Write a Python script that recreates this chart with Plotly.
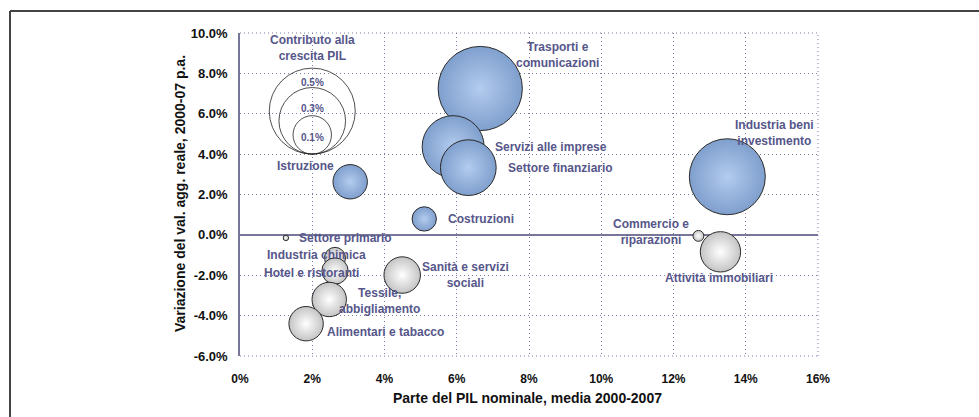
import plotly.graph_objects as go

# ---------------- data ----------------
settori = ["Trasporti e<br>comunicazioni", "Servizi alle imprese", "Settore finanziario",
           "Istruzione", "Costruzioni", "Industria beni<br>investimento",
           "Settore primario", "Industria chimica", "Hotel e ristoranti",
           "Sanità e servizi<br>sociali", "Tessile,<br>abbigliamento",
           "Alimentari e tabacco", "Commercio e<br>riparazioni", "Attività immobiliari"]
quota_pil = [6.65, 5.90, 6.32, 3.05, 5.10, 13.49, 1.27, 2.63, 2.63, 4.49, 2.47, 1.83, 12.69, 13.30]
var_va = [7.25, 4.37, 3.33, 2.63, 0.79, 2.88, -0.15, -1.14, -1.79, -1.99, -3.20, -4.40, -0.05, -0.84]
contributo = [0.48, 0.26, 0.21, 0.08, 0.04, 0.39, 0.002, 0.03, 0.047, 0.09, 0.08, 0.08, 0.008, 0.11]

legenda_valori = [0.5, 0.3, 0.1]
legenda_testi = ["0.5%", "0.3%", "0.1%"]

x_ticks = [0, 2, 4, 6, 8, 10, 12, 14, 16]
y_ticks = [-6, -4, -2, 0, 2, 4, 6, 8, 10]

# ---------------- style ----------------
W, H = 979, 417
ML, MR, MT, MB = 240, 161, 33, 61
PW, PH = W - ML - MR, H - MT - MB
FONT = "Liberation Sans, Arial, sans-serif"
LBL = "#56568a"
GRID = "#7c7ca6"
AX = "#77779a"
DOT = "1px,3px"
MAX_D = 86.0
sizeref = 2.0 * max(legenda_valori) / MAX_D ** 2

# label offsets (pixels) relative to each bubble
label_shift = [(77, 34), (98, 0), (92, 0), (-45, 16), (57, 0), (47, 44),
               (60, 0), (-19, 3), (-24, -2), (63, 0), (50, -2), (79, -8),
               (-47, 4), (-1, -26)]

fig = go.Figure()

for i in range(len(settori)):
    pos = var_va[i] >= 0
    fig.add_trace(go.Scatter(
        x=[quota_pil[i]], y=[var_va[i]], mode="markers",
        marker=dict(size=[contributo[i]], sizemode="area", sizeref=sizeref, sizemin=2,
                    color="#7f9fcd" if pos else "#c4c4c4",
                    gradient=dict(type="radial", color="#b3cbee" if pos else "#ffffff"),
                    line=dict(color="#2a2a2a", width=1), opacity=1),
        hoverinfo="skip", showlegend=False, cliponaxis=False))

annotations = []
for i, name in enumerate(settori):
    dx, dy = label_shift[i]
    annotations.append(dict(x=quota_pil[i], y=var_va[i], xref="x", yref="y", text=name,
                            showarrow=False, xshift=dx, yshift=dy,
                            font=dict(family=FONT, size=12, color=LBL, weight="bold"),
                            align="center", xanchor="center", yanchor="middle"))

# bubble-size legend
shapes = []
leg_x, leg_y = 2, 4
label_up = [72, 46, 17]
for v, t, up in zip(legenda_valori, legenda_testi, label_up):
    r = (2 * v / sizeref) ** 0.5 / 2
    shapes.append(dict(type="circle", xref="x", yref="y", xsizemode="pixel", ysizemode="pixel",
                       xanchor=leg_x, yanchor=leg_y, x0=-r, x1=r, y0=0, y1=2 * r,
                       line=dict(color="#222222", width=0.8), fillcolor="rgba(0,0,0,0)"))
    annotations.append(dict(x=leg_x, y=leg_y, xref="x", yref="y", text=t, showarrow=False,
                            yshift=up, font=dict(family=FONT, size=10, color=LBL, weight="bold"),
                            xanchor="center", yanchor="middle"))
annotations.append(dict(x=leg_x, y=leg_y, xref="x", yref="y",
                        text="Contributo alla<br>crescita PIL", showarrow=False,
                        yshift=106, font=dict(family=FONT, size=12, color=LBL, weight="bold"),
                        xanchor="center", yanchor="middle"))

# axis titles
annotations.append(dict(x=(180 - ML) / PW, y=(MT + PH - 194) / PH, xref="paper", yref="paper",
                        text="Variazione del val. agg. reale, 2000-07 p.a.", textangle=-90,
                        xanchor="center", yanchor="middle",
                        showarrow=False, font=dict(family=FONT, size=14, color="#111", weight="bold")))
annotations.append(dict(x=0.498, y=(MT + PH - 398) / PH, xref="paper", yref="paper",
                        text="Parte del PIL nominale, media 2000-2007",
                        xanchor="center", yanchor="middle",
                        showarrow=False, font=dict(family=FONT, size=14, color="#111", weight="bold")))

# dotted plot-area border (top, right, bottom)
for (x0, y0, x1, y1) in [(0, 1, 1, 1), (1, 0, 1, 1), (0, 0, 1, 0)]:
    shapes.append(dict(type="line", xref="paper", yref="paper", x0=x0, y0=y0, x1=x1, y1=y1,
                       line=dict(color=GRID, width=1, dash=DOT), layer="below"))

# outer frame
shapes.append(dict(type="line", xref="paper", yref="paper", x0=(10 - ML) / PW, x1=1.5,
                   y0=1 + (MT - 11) / PH, y1=1 + (MT - 11) / PH,
                   line=dict(color="#444444", width=2)))
shapes.append(dict(type="line", xref="paper", yref="paper", x0=(10 - ML) / PW, x1=(10 - ML) / PW,
                   y0=1 + (MT - 11) / PH, y1=-0.5, line=dict(color="#444444", width=2)))

fig.update_layout(
    width=W, height=H, margin=dict(l=ML, r=MR, t=MT, b=MB, autoexpand=False),
    paper_bgcolor="white", plot_bgcolor="white",
    annotations=annotations, shapes=shapes, showlegend=False,
    xaxis=dict(range=[0, 16], tickvals=x_ticks, ticktext=[f"{v}%" for v in x_ticks],
               showgrid=True, gridcolor=GRID, griddash=DOT, gridwidth=1,
               zeroline=False, showline=False, ticks="", ticklabelstandoff=14,
               tickfont=dict(family=FONT, size=12, color="#111", weight="bold")),
    yaxis=dict(range=[-6, 10], tickvals=y_ticks, ticktext=[f"{v:.1f}%" for v in y_ticks],
               showgrid=True, gridcolor=GRID, griddash=DOT, gridwidth=1,
               zeroline=True, zerolinecolor=AX, zerolinewidth=1.5,
               showline=True, linecolor=AX, linewidth=1.5, ticks="", ticklabelstandoff=8,
               tickfont=dict(family=FONT, size=13, color="#111", weight="bold")),
)

fig.write_html("out.html", config={"displayModeBar": False},
               post_script="document.body.style.margin='0px';")
